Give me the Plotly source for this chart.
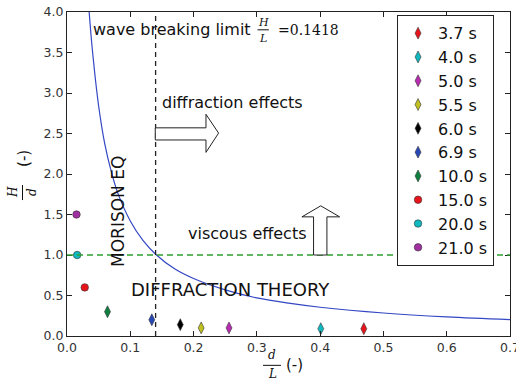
import plotly.graph_objects as go

# Measured points (d/L, H/d) per wave period
periods = ["3.7 s", "4.0 s", "5.0 s", "5.5 s", "6.0 s", "6.9 s", "10.0 s", "15.0 s", "20.0 s", "21.0 s"]
d_over_L = [0.469, 0.401, 0.256, 0.212, 0.179, 0.134, 0.064, 0.028, 0.016, 0.015]
H_over_d = [0.09, 0.09, 0.10, 0.10, 0.14, 0.20, 0.30, 0.60, 1.00, 1.50]
colors = ["#e8141c", "#10b8c0", "#b82cb0", "#c0c020", "#000000", "#2848b8", "#108040", "#e8141c", "#10b8c0", "#a030a0"]
symbols = ["diamond-tall"] * 7 + ["circle"] * 3

# Wave breaking limit curve
curve_x = [0.035, 0.04, 0.05, 0.06, 0.07, 0.08, 0.10, 0.12, 0.14, 0.17, 0.20, 0.25, 0.30, 0.35, 0.40, 0.50, 0.60, 0.70]
curve_y = [4.0, 3.54, 2.84, 2.36, 2.03, 1.77, 1.42, 1.18, 1.01, 0.83, 0.71, 0.57, 0.47, 0.405, 0.355, 0.284, 0.236, 0.203]

x_ticks = [0.0, 0.1, 0.2, 0.3, 0.4, 0.5, 0.6, 0.7]
y_ticks = [0.0, 0.5, 1.0, 1.5, 2.0, 2.5, 3.0, 3.5, 4.0]
limit_x = 0.14
viscous_y = 1.0

FONT = "DejaVu Sans"
SERIF = "DejaVu Serif"

fig = go.Figure()
fig.add_trace(go.Scatter(x=curve_x, y=curve_y, mode="lines", line=dict(color="#3447c4", width=1.2, shape="spline"),
                         showlegend=False, hoverinfo="skip"))
for i, p in enumerate(periods):
    size = 8.5 if symbols[i] == "diamond-tall" else 7.5
    fig.add_trace(go.Scatter(x=[d_over_L[i]], y=[H_over_d[i]], mode="markers", name=p,
                             marker=dict(symbol=symbols[i], color=colors[i], size=size,
                                         line=dict(color="#333333", width=0.6))))

# dashed lines
fig.add_shape(type="line", x0=limit_x, x1=limit_x, y0=0, y1=1, xref="x", yref="paper",
              line=dict(color="#222222", width=1.3, dash="5px,4px"))
fig.add_shape(type="line", x0=0, x1=1, y0=viscous_y, y1=viscous_y, xref="paper", yref="y",
              line=dict(color="#2ea02e", width=1.3, dash="6px,4px"))

# hollow arrows
fig.add_shape(type="path", xref="x", yref="y",
              path="M 0.1395,2.42 L 0.2196,2.42 L 0.2196,2.267 L 0.2395,2.505 L 0.2196,2.737 L 0.2196,2.57 L 0.1395,2.57 Z",
              fillcolor="white", line=dict(color="#222222", width=1))
fig.add_shape(type="path", xref="x", yref="y",
              path="M 0.3896,1.0 L 0.3896,1.471 L 0.3712,1.471 L 0.401,1.607 L 0.4308,1.471 L 0.4107,1.471 L 0.4107,1.0 Z",
              fillcolor="white", line=dict(color="#222222", width=1))

ann = []
def txt(x, y, s, size=15, xanchor="left", angle=0, family=FONT, xref="x", yref="y"):
    ann.append(dict(x=x, y=y, text=s, xref=xref, yref=yref, showarrow=False, xanchor=xanchor, yanchor="middle",
                    textangle=angle, font=dict(family=family, size=size, color="#111111")))

txt(0.038, 3.79, "wave breaking limit", 16)
txt(0.310, 3.875, "<i>H</i>", 11, "center", family=SERIF)
txt(0.310, 3.67, "<i>L</i>", 11, "center", family=SERIF)
fig.add_shape(type="line", x0=0.301, x1=0.319, y0=3.78, y1=3.78, xref="x", yref="y", line=dict(color="#111111", width=1))
txt(0.330, 3.78, "=0.1418", 14, family=SERIF)
txt(0.147, 2.88, "diffraction effects", 16)
txt(0.188, 1.27, "viscous effects", 16)
txt(0.0795, 1.535, "MORISON EQ", 17, "center", angle=-90)
txt(0.098, 0.577, "DIFFRACTION THEORY", 18)

# axis labels as fractions (paper coordinates)
def px2paper(px, py):
    return (px - 67) / 443.0, (335.7 - py) / 323.4

# y label
xh, yh = px2paper(13, 192)
txt(xh, yh, "<i>H</i>", 12, "center", angle=-90, family=SERIF, xref="paper", yref="paper")
xd, yd = px2paper(32, 192)
txt(xd, yd, "<i>d</i>", 12, "center", angle=-90, family=SERIF, xref="paper", yref="paper")
xb, yb0 = px2paper(22.5, 185)
_, yb1 = px2paper(22.5, 200)
fig.add_shape(type="line", x0=xb, x1=xb, y0=yb0, y1=yb1, xref="paper", yref="paper", line=dict(color="#111111", width=1))
xm, ym = px2paper(24, 159)
txt(xm, ym, "(-)", 15, "center", angle=-90, xref="paper", yref="paper")

# x label
xd2, yd2 = px2paper(272, 355)
txt(xd2, yd2, "<i>d</i>", 12, "center", family=SERIF, xref="paper", yref="paper")
xl2, yl2 = px2paper(272, 374)
txt(xl2, yl2, "<i>L</i>", 12, "center", family=SERIF, xref="paper", yref="paper")
xb0, yb = px2paper(263, 365)
xb1, _ = px2paper(281, 365)
fig.add_shape(type="line", x0=xb0, x1=xb1, y0=yb, y1=yb, xref="paper", yref="paper", line=dict(color="#111111", width=1))
xm2, ym2 = px2paper(294, 365)
txt(xm2, ym2, "(-)", 15, "center", xref="paper", yref="paper")

axis_common = dict(showgrid=False, zeroline=False, showline=True, linecolor="#222222", linewidth=1, mirror="ticks",
                   ticks="inside", ticklen=5, tickcolor="#222222", tickformat=".1f", ticklabeloverflow="allow",
                   automargin=False, tickfont=dict(family=FONT, size=12.5, color="#333333"))
fig.update_layout(
    width=516, height=383, margin=dict(l=67, r=6, t=12, b=47),
    paper_bgcolor="white", plot_bgcolor="white",
    xaxis=dict(range=[0, 0.7], tickvals=x_ticks, **axis_common),
    yaxis=dict(range=[0, 4.0], tickvals=y_ticks, **axis_common),
    annotations=ann,
    legend=dict(x=0.745, y=0.99, xanchor="left", yanchor="top", bgcolor="white", bordercolor="#222222",
                borderwidth=1, font=dict(family=FONT, size=16, color="#111111")),
)
fig.write_html("out.html", config={"displayModeBar": False},
               post_script="document.body.style.margin='0';document.body.style.overflow='hidden';")
